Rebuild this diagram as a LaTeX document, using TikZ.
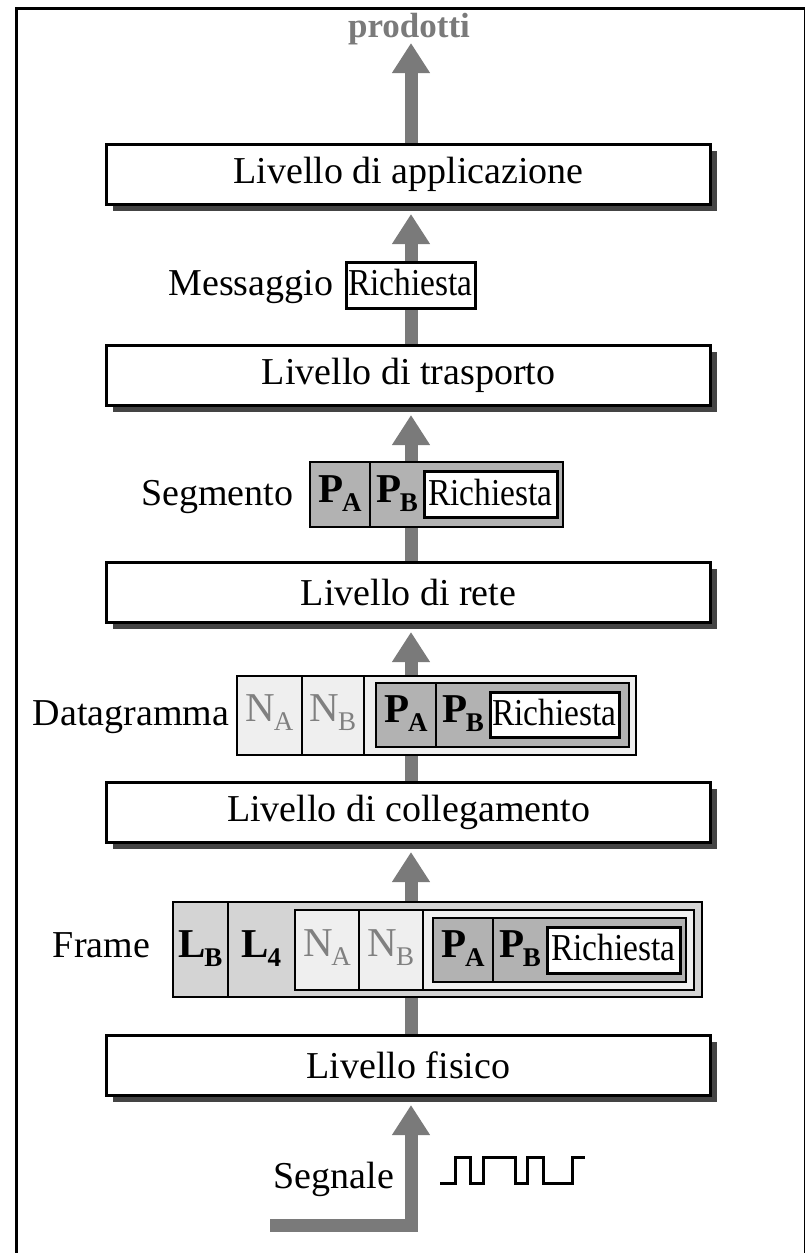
\documentclass[tikz,border=0pt]{standalone}
\usepackage{fontspec}
\setmainfont{Liberation Serif}
\newfontfamily\condf[FakeStretch=0.88]{Liberation Serif}
\usetikzlibrary{arrows.meta,shadows}
\definecolor{shaft}{HTML}{7A7A7A}
\definecolor{pgray}{HTML}{B2B2B2}
\definecolor{lgray}{HTML}{D4D4D4}
\definecolor{ngray}{HTML}{EFEFEF}
\definecolor{ntext}{HTML}{808080}
\definecolor{shadowc}{HTML}{444444}
\newcommand\labfont{\fontsize{38}{40}\selectfont}
\newcommand\hdr[2]{{\fontsize{41}{41}\selectfont\bfseries #1}\kern-1.5pt\raisebox{-9pt}{\fontsize{27}{27}\selectfont\bfseries #2}}
\newcommand\nhdr[2]{\textcolor{ntext}{{\fontsize{41}{41}\selectfont #1}\kern-1.5pt\raisebox{-9pt}{\fontsize{27}{27}\selectfont #2}}}
\newcommand\req{{\condf\fontsize{38}{40}\selectfont Richiesta}}
% style, name, x1, y1, x2, y2
\newcommand\boxat[6]{\node[#1, minimum width={#5-#3}, minimum height={#6-#4}] (#2) at ({(#3+#5)/2},{(#4+#6)/2}) {};}
\begin{document}
\begin{tikzpicture}[x=1pt,y=-1pt,
  layer/.style={draw, line width=3pt, fill=white, inner sep=0pt,
    minimum width=604pt, minimum height=60pt, font=\labfont,
    drop shadow={shadow xshift=6pt, shadow yshift=-6pt, fill=shadowc, opacity=1}},
  flow/.style={draw=shaft, line width=13pt, -{Triangle[width=36pt,length=30pt]}},
  cellP/.style={draw, line width=2.5pt, fill=pgray, inner sep=0pt, outer sep=0pt},
  cellL/.style={draw, line width=2.5pt, fill=lgray, inner sep=0pt, outer sep=0pt},
  cellN/.style={draw, line width=2.5pt, fill=ngray, inner sep=0pt, outer sep=0pt},
  cellW/.style={draw, line width=3pt, fill=white, inner sep=0pt, outer sep=0pt},
  txt/.style={inner sep=0pt, outer sep=0pt, anchor=base},
  side/.style={inner sep=0pt, outer sep=0pt, anchor=base east, font=\labfont}]
\useasboundingbox (0,0) rectangle (805,1253);
\draw[line width=3pt] (16.5,8.5) rectangle (805.5,1262);

% layers
\node[layer] (app) at (408.5,174.5) {Livello di applicazione};
\node[layer] (tra) at (408.5,375.5) {Livello di trasporto};
\node[layer] (ret) at (408.5,592.5) {Livello di rete};
\node[layer] (col) at (408.5,812.5) {Livello di collegamento};
\node[layer] (fis) at (408.5,1065.5) {Livello fisico};

% arrows
\coordinate (top) at (411,43);
\coordinate (sg) at (270,1225.5);
\draw[flow] (app.north -| top) -- (top);
\draw[flow, shorten >=8pt] (tra.north -| top) -- (app.south -| top);
\draw[flow, shorten >=8pt] (ret.north -| top) -- (tra.south -| top);
\draw[flow, shorten >=8pt] (col.north -| top) -- (ret.south -| top);
\draw[flow, shorten >=8pt] (fis.north -| top) -- (col.south -| top);
\draw[flow, shorten >=8pt] (sg) -| (fis.south -| top);

\node[txt, font=\fontsize{35}{38}\selectfont\bfseries, text=shaft] (prod) at (409,37) {prodotti};

% Messaggio
\boxat{cellW}{mR}{346}{262}{475}{308}
\node[txt] (mRt) at (410.5,295) {\req};
\node[side] (mlab) at (333,295) {Messaggio};

% Segmento
\boxat{cellP}{sA}{310}{462}{370}{527}
\boxat{cellP}{sB}{370}{462}{563}{527}
\boxat{cellW}{sR}{424}{471}{557}{517}
\node[txt] (sAt) at (340,502) {\hdr{P}{A}};
\node[txt] (sBt) at (397,502) {\hdr{P}{B}};
\node[txt] (sRt) at (490.5,505) {\req};
\node[side] (slab) at (293,505) {Segmento};

% Datagramma
\boxat{cellN}{dNA}{237}{676}{302}{755}
\boxat{cellN}{dNB}{302}{676}{364}{755}
\boxat{cellN}{dRest}{364}{676}{636}{755}
\boxat{cellP}{dPA}{376}{683}{436}{747}
\boxat{cellP}{dPB}{436}{683}{629}{747}
\boxat{cellW}{dR}{490}{692}{619}{737}
\node[txt] (dNAt) at (269.5,721) {\nhdr{N}{A}};
\node[txt] (dNBt) at (333,721) {\nhdr{N}{B}};
\node[txt] (dPAt) at (406,722) {\hdr{P}{A}};
\node[txt] (dPBt) at (463,722) {\hdr{P}{B}};
\node[txt] (dRt) at (554.5,725) {\req};
\node[side] (dlab) at (229,725) {Datagramma};

% Frame
\boxat{cellL}{fLB}{173}{902}{228}{997}
\boxat{cellL}{fL4}{228}{902}{702}{997}
\boxat{cellN}{fNA}{295}{910}{359}{990}
\boxat{cellN}{fNB}{359}{910}{423}{990}
\boxat{cellN}{fRest}{423}{910}{694}{990}
\boxat{cellP}{fPA}{433}{918}{493}{982}
\boxat{cellP}{fPB}{493}{918}{686}{982}
\boxat{cellW}{fR}{547}{927}{680}{973}
\node[txt] (fLBt) at (200.5,957) {\hdr{L}{B}};
\node[txt] (fL4t) at (261.5,957) {\hdr{L}{4}};
\node[txt] (fNAt) at (327,956) {\nhdr{N}{A}};
\node[txt] (fNBt) at (391,956) {\nhdr{N}{B}};
\node[txt] (fPAt) at (463,957) {\hdr{P}{A}};
\node[txt] (fPBt) at (520,957) {\hdr{P}{B}};
\node[txt] (fRt) at (613.5,960) {\req};
\node[side] (flab) at (150,957) {Frame};

% Segnale
\node[side] (sglab) at (394,1188) {Segnale};
\draw[line width=3pt] (440,1183) -- (455,1183) -- (455,1157) -- (470,1157) -- (470,1183)
  -- (483,1183) -- (483,1157) -- (515,1157) -- (515,1183) -- (527,1183) -- (527,1157)
  -- (543,1157) -- (543,1183) -- (572,1183) -- (572,1157) -- (585,1157);
\end{tikzpicture}
\end{document}
